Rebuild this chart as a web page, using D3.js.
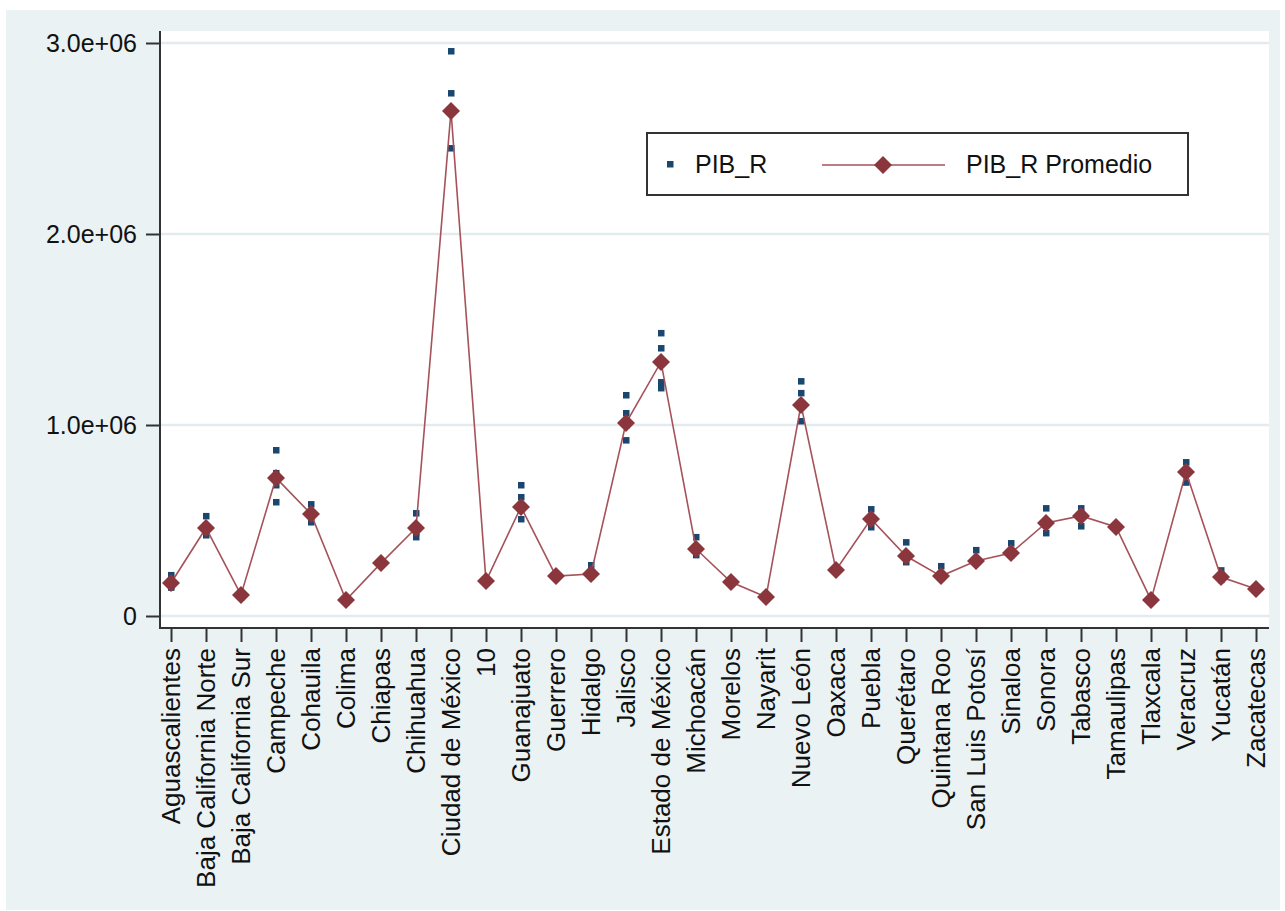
<!DOCTYPE html>
<html>
<head>
<meta charset="utf-8">
<script src="https://cdn.jsdelivr.net/npm/d3@7/dist/d3.min.js"></script>
<style>
  html, body { margin: 0; padding: 0; background: #ffffff; }
  svg { display: block; }
  text { font-family: "Liberation Sans", Arial, sans-serif; fill: #111; }
</style>
</head>
<body>
<svg id="chart" width="1285" height="911"></svg>
<script>
// ---- Data ----
const categories = ["Aguascalientes","Baja California Norte","Baja California Sur","Campeche","Cohauila","Colima","Chiapas","Chihuahua","Ciudad de México","10","Guanajuato","Guerrero","Hidalgo","Jalisco","Estado de México","Michoacán","Morelos","Nayarit","Nuevo León","Oaxaca","Puebla","Querétaro","Quintana Roo","San Luis Potosí","Sinaloa","Sonora","Tabasco","Tamaulipas","Tlaxcala","Veracruz","Yucatán","Zacatecas"];

// PIB_R Promedio (average per state)
const pibPromedio = [173000, 461000, 110000, 723000, 534000, 84000, 277000, 461000, 2644000, 183000, 571000, 209000, 220000, 1010000, 1330000, 351000, 178000, 99000, 1105000, 241000, 508000, 314000, 209000, 288000, 330000, 487000, 524000, 466000, 84000, 754000, 204000, 141000];

// PIB_R individual observations per state
const pibR = [
  [215000, 170000, 160000, 150000],
  [524000, 424000, 460000, 440000],
  [100000, 110000, 120000],
  [869000, 749000, 686000, 597000],
  [586000, 492000, 530000],
  [80000, 85000, 90000],
  [270000, 280000, 285000],
  [539000, 414000, 460000, 440000],
  [2958000, 2738000, 2450000, 2650000],
  [180000, 185000, 190000],
  [686000, 623000, 508000, 560000],
  [205000, 210000, 215000],
  [267000, 220000, 210000],
  [1157000, 1063000, 921000, 1000000],
  [1482000, 1403000, 1225000, 1194000, 1330000],
  [414000, 320000, 350000],
  [170000, 180000, 185000],
  [95000, 100000, 105000],
  [1230000, 1168000, 1021000, 1100000],
  [235000, 240000, 245000],
  [560000, 466000, 510000],
  [387000, 283000, 310000],
  [262000, 210000, 200000],
  [346000, 290000, 280000],
  [382000, 330000, 320000],
  [565000, 435000, 490000],
  [565000, 471000, 520000],
  [460000, 470000, 465000],
  [80000, 85000, 90000],
  [806000, 700000, 750000],
  [240000, 200000, 190000],
  [135000, 140000, 145000]
];

const yTicks = [0, 1000000, 2000000, 3000000];
const yTickLabels = ["0", "1.0e+06", "2.0e+06", "3.0e+06"];
const legendLabels = ["PIB_R", "PIB_R Promedio"];

// ---- Layout ----
const svg = d3.select("#chart");
const plot = { left: 160, right: 1269, top: 31, bottom: 628 };
const colBg = "#eaf2f3", colGrid = "#e2ebee", colBlue = "#1a476f", colRed = "#8b363c", colLine = "#a5525a";

svg.append("rect").attr("x", 6).attr("y", 10).attr("width", 1274).attr("height", 900).attr("fill", colBg);
svg.append("rect").attr("x", plot.left).attr("y", plot.top)
  .attr("width", plot.right - plot.left).attr("height", plot.bottom - plot.top).attr("fill", "#ffffff");

const x = d3.scalePoint().domain(categories).range([171, 1256]);
const y = d3.scaleLinear().domain([0, 3000000]).range([616, 43]);

// gridlines
svg.append("g").selectAll("line").data(yTicks).join("line")
  .attr("x1", plot.left).attr("x2", plot.right)
  .attr("y1", d => y(d)).attr("y2", d => y(d))
  .attr("stroke", colGrid).attr("stroke-width", 2.5);

// Y axis
const yAxis = d3.axisLeft(y).tickValues(yTicks).tickSize(14).tickPadding(9)
  .tickFormat((d, i) => yTickLabels[i]);
const gy = svg.append("g").attr("transform", `translate(${plot.left},0)`).call(yAxis);
gy.select(".domain").remove();
gy.selectAll(".tick line").attr("stroke", "#333").attr("stroke-width", 2);
gy.selectAll(".tick text").attr("font-size", 25).attr("fill", "#111")
  .style("font-family", '"Liberation Sans", Arial, sans-serif');
svg.append("line").attr("x1", plot.left).attr("x2", plot.left)
  .attr("y1", plot.top).attr("y2", plot.bottom + 1).attr("stroke", "#333").attr("stroke-width", 2);

// X axis
const xAxis = d3.axisBottom(x).tickSize(14).tickPadding(0);
const gx = svg.append("g").attr("transform", `translate(0,${plot.bottom})`).call(xAxis);
gx.select(".domain").remove();
gx.selectAll(".tick line").attr("stroke", "#333").attr("stroke-width", 2);
gx.selectAll(".tick text")
  .attr("font-size", 26).attr("fill", "#111")
  .style("font-family", '"Liberation Sans", Arial, sans-serif')
  .attr("text-anchor", "end")
  .attr("transform", "translate(-1,20) rotate(-90)")
  .attr("x", 0).attr("y", 0).attr("dy", "0.35em");
svg.append("line").attr("x1", plot.left - 1).attr("x2", plot.right)
  .attr("y1", plot.bottom).attr("y2", plot.bottom).attr("stroke", "#333").attr("stroke-width", 2);

// PIB_R squares
const pts = [];
categories.forEach((c, i) => pibR[i].forEach(v => pts.push({ c, v })));
svg.append("g").selectAll("rect").data(pts).join("rect")
  .attr("x", d => x(d.c) - 3).attr("y", d => y(d.v) - 3)
  .attr("width", 6.5).attr("height", 6.5).attr("fill", colBlue);

// Promedio line
const avg = categories.map((c, i) => ({ c, v: pibPromedio[i] }));
svg.append("path").datum(avg)
  .attr("d", d3.line().x(d => x(d.c)).y(d => y(d.v)))
  .attr("fill", "none").attr("stroke", colLine).attr("stroke-width", 1.6);

const diamond = (cx, cy, r) => `M${cx},${cy - r}L${cx + r},${cy}L${cx},${cy + r}L${cx - r},${cy}Z`;
svg.append("g").selectAll("path").data(avg).join("path")
  .attr("d", d => diamond(x(d.c), y(d.v), 9))
  .attr("fill", colRed);

// Legend
const lg = svg.append("g");
lg.append("rect").attr("x", 647).attr("y", 133).attr("width", 541).attr("height", 62)
  .attr("fill", "#fff").attr("stroke", "#333").attr("stroke-width", 2);
lg.append("rect").attr("x", 667).attr("y", 161).attr("width", 6.5).attr("height", 6.5).attr("fill", colBlue);
lg.append("text").attr("x", 695).attr("y", 164).attr("dy", "0.35em").attr("font-size", 25).text(legendLabels[0]);
lg.append("line").attr("x1", 822).attr("x2", 945).attr("y1", 165).attr("y2", 165)
  .attr("stroke", colLine).attr("stroke-width", 1.6);
lg.append("path").attr("d", diamond(883, 165, 9)).attr("fill", colRed);
lg.append("text").attr("x", 966).attr("y", 164).attr("dy", "0.35em").attr("font-size", 25).text(legendLabels[1]);
</script>
</body>
</html>
